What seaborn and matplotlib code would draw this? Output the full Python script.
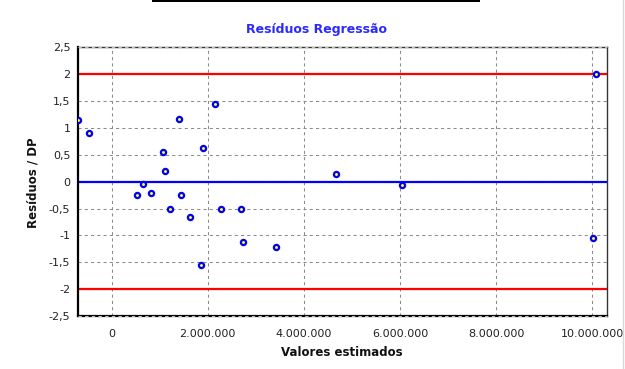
import matplotlib
matplotlib.use("Agg")
import matplotlib.pyplot as plt
from matplotlib.lines import Line2D
from matplotlib.patches import Rectangle
from matplotlib.ticker import MultipleLocator
import numpy as np
import pandas as pd
import seaborn as sns

# Fitted values and standardized residuals
valores_estimados = [
    -700000, -467000, 533000, 646000, 812000, 1075000, 1110000, 1215000,
    1396000, 1450000, 1630000, 1860000, 1908000, 2152000, 2270000, 2687000,
    2740000, 3417000, 4673000, 6048000, 10013000, 10090000,
]
residuos_dp = [
    1.15, 0.90, -0.25, -0.04, -0.21, 0.56, 0.19, -0.51,
    1.16, -0.25, -0.65, -1.55, 0.63, 1.44, -0.51, -0.51,
    -1.12, -1.21, 0.14, -0.07, -1.05, 2.00,
]

# Reference lines
limites = [-2, 2]
centro = 0

# Axis ticks and labels
x_ticks = [0, 2000000, 4000000, 6000000, 8000000, 10000000]
x_tick_labels = ["0", "2.000.000", "4.000.000", "6.000.000", "8.000.000", "10.000.000"]
y_ticks = [-2.5, -2, -1.5, -1, -0.5, 0, 0.5, 1, 1.5, 2, 2.5]
y_tick_labels = ["-2,5", "-2", "-1,5", "-1", "-0,5", "0", "0,5", "1", "1,5", "2", "2,5"]

titulo = "Resíduos Regressão"
rotulo_x = "Valores estimados"
rotulo_y = "Resíduos / DP"

df = pd.DataFrame({"x": valores_estimados, "y": residuos_dp})

sns.set_style("white")
plt.rcParams["font.family"] = ["DejaVu Sans"]

W, H = 625, 369
fig = plt.figure(figsize=(W / 100, H / 100), dpi=100)
fig.patch.set_facecolor("white")

# axes box in pixels: left 78, right 607, top 47, bottom 316
ax = fig.add_axes([78 / W, 1 - 316 / H, (607 - 78) / W, (316 - 47.3) / H])
ax.set_facecolor("white")

ax.set_xlim(-702000, 10310000)
ax.set_ylim(-2.5, 2.5)

grid_kw = dict(color="#8c8c8c", linewidth=0.75, linestyle=(0, (3, 3)))
ax.set_xticks(x_ticks)
ax.set_xticklabels(x_tick_labels)
ax.set_yticks(y_ticks)
ax.set_yticklabels(y_tick_labels)
ax.xaxis.set_minor_locator(MultipleLocator(500000))
ax.yaxis.set_minor_locator(MultipleLocator(0.1))
ax.grid(True, which="major", **grid_kw)
ax.set_axisbelow(True)

ax.tick_params(axis="both", which="major", direction="out", length=3.5, width=0.8,
               color="#333333", labelsize=8, labelcolor="#222222")
ax.tick_params(axis="x", which="major", pad=6)
ax.tick_params(axis="y", which="major", pad=2)
ax.tick_params(axis="both", which="minor", direction="out", length=2, width=0.7,
               color="#555555")

for side in ["left", "bottom"]:
    ax.spines[side].set_color("black")
    ax.spines[side].set_linewidth(1.6)
for side in ["top", "right"]:
    ax.spines[side].set_color("#333333")
    ax.spines[side].set_linewidth(1.0)

# dashed overlay on the top and bottom frame edges
for yy in (-2.5, 2.5):
    ax.axhline(yy, color="#bdbdbd", linewidth=0.8, linestyle=(0, (3, 3)),
               clip_on=False, zorder=3)

# limit and zero lines
for lim in limites:
    ax.axhline(lim, color="#ff0000", linewidth=1.6, zorder=2)
ax.axhline(centro, color="#0000ff", linewidth=1.6, zorder=2)

sns.scatterplot(data=df, x="x", y="y", ax=ax, marker="o", s=14,
                facecolor="#ffff00", edgecolor="#0000ff", linewidth=1.6,
                zorder=4, legend=False)
ax.set_xlabel("")
ax.set_ylabel("")

fig.text(316 / W, 1 - 29 / H, titulo, ha="center", va="center",
         fontsize=9, fontweight="bold", color="#2a2aff")
fig.text(342 / W, 1 - 352 / H, rotulo_x, ha="center", va="center",
         fontsize=8.5, fontweight="bold", color="#111111")
fig.text(33 / W, 1 - 183 / H, rotulo_y, ha="center", va="center", rotation=90,
         fontsize=8.5, fontweight="bold", color="#111111")

# top bar and right border line
fig.add_artist(Rectangle((152 / W, 1 - 2.2 / H), (480 - 152) / W, 2.2 / H,
                         transform=fig.transFigure, color="black", lw=0))
fig.add_artist(Line2D([623 / W, 623 / W], [0, 1], transform=fig.transFigure,
                      color="#d8d8d8", linewidth=1.0))

fig.savefig("out.png", dpi=100, facecolor="white")
